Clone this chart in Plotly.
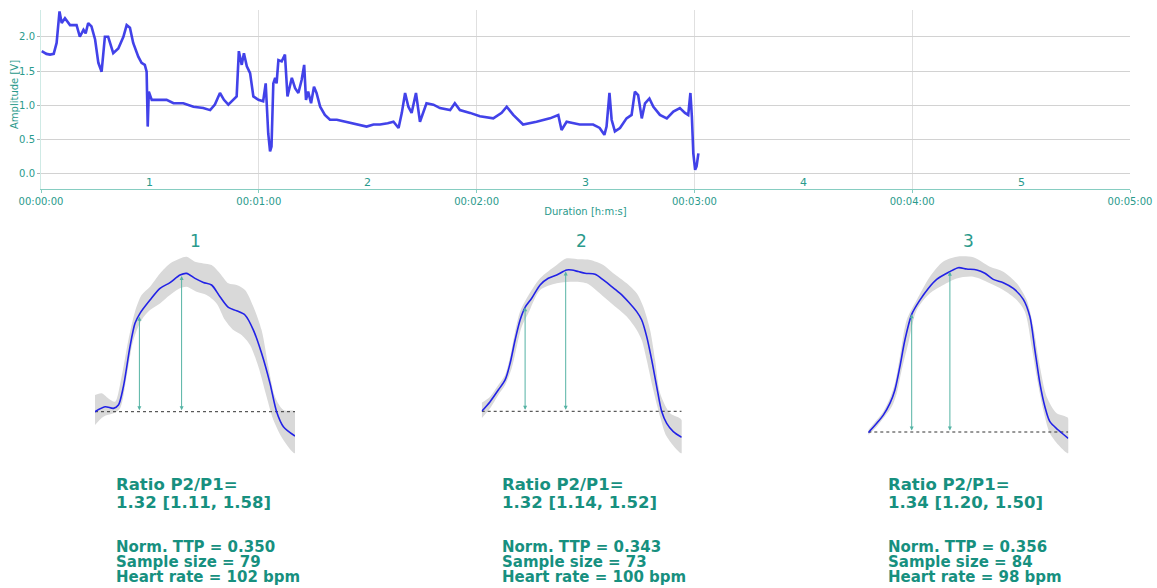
import plotly.graph_objects as go

# ---------------- data: top recording ----------------
t_sec = [0.2, 1.5, 2.5, 3.5, 4.3, 5.1, 5.7, 6.6, 8.0, 9.8, 10.7, 11.7, 12.3, 13.0, 13.9, 14.9, 15.8, 16.7, 17.6, 18.5,
         19.9, 21.3, 22.7, 23.6, 24.5, 25.4, 26.8, 27.7, 28.6, 29.1, 29.4, 29.7, 30.5, 32.8, 34.6, 36.5, 39.2, 42.0, 44.7, 46.6,
         47.9, 49.3, 50.4, 51.6, 52.9, 53.9, 54.5, 55.3, 55.9, 56.7, 57.6, 58.5, 59.9, 61.2, 61.9, 62.2, 62.6, 63.1, 63.5, 64.0,
         64.5, 64.9, 65.4, 66.3, 67.2, 67.9, 69.1, 70.0, 70.9, 71.8, 72.5, 73.0, 73.6, 74.4, 75.2, 75.9, 76.9, 78.2, 79.6, 81.5,
         84.2, 87.0, 89.7, 91.6, 93.4, 95.5, 97.1, 98.5, 99.4, 100.3, 101.2, 102.1, 103.3, 104.4, 106.2, 108.1, 109.9, 112.7, 114.0, 115.4,
         118.2, 120.9, 124.6, 126.9, 128.3, 130.1, 132.8, 136.5, 140.2, 142.5, 143.4, 144.8, 148.4, 152.1, 153.9, 155.2, 155.8, 156.6, 157.2, 158.1,
         159.5, 161.3, 162.7, 163.6, 164.5, 165.5, 166.4, 167.6, 168.7, 170.5, 172.4, 174.2, 176.0, 177.4, 178.3, 178.9, 179.3, 179.7, 180.2, 180.6,
         181.1]
amp_v = [1.79, 1.75, 1.74, 1.75, 1.91, 2.37, 2.20, 2.27, 2.17, 2.17, 2.00, 2.10, 2.05, 2.20, 2.15, 1.96, 1.62, 1.49, 2.00, 2.00,
         1.76, 1.83, 2.00, 2.17, 2.13, 1.91, 1.71, 1.62, 1.59, 1.49, 0.69, 1.20, 1.08, 1.08, 1.08, 1.03, 1.03, 0.98, 0.96, 0.93,
         1.01, 1.18, 1.08, 1.01, 1.08, 1.13, 1.79, 1.59, 1.76, 1.57, 1.47, 1.13, 1.08, 1.06, 1.32, 0.89, 0.59, 0.33, 0.40, 1.32,
         1.40, 1.32, 1.66, 1.64, 1.74, 1.13, 1.40, 1.25, 1.18, 1.37, 1.59, 1.08, 1.20, 1.03, 1.27, 1.18, 0.98, 0.86, 0.79, 0.79,
         0.76, 0.72, 0.69, 0.72, 0.72, 0.74, 0.76, 0.67, 0.89, 1.18, 0.98, 0.89, 1.18, 0.76, 1.03, 1.01, 0.96, 0.93, 1.03, 0.93,
         0.89, 0.84, 0.81, 0.89, 0.98, 0.86, 0.72, 0.76, 0.81, 0.86, 0.64, 0.76, 0.72, 0.72, 0.67, 0.57, 0.69, 1.18, 0.79, 0.62,
         0.67, 0.81, 0.86, 1.20, 1.15, 0.81, 1.03, 1.10, 0.98, 0.86, 0.81, 0.91, 0.96, 0.89, 0.86, 1.18, 0.84, 0.30, 0.06, 0.11,
         0.30]

segment_labels = ["1", "2", "3", "4", "5"]
segment_centers = [30, 90, 150, 210, 270]
x_tick_vals = [0, 60, 120, 180, 240, 300]
x_tick_text = ["00:00:00", "00:01:00", "00:02:00", "00:03:00", "00:04:00", "00:05:00"]
y_tick_vals = [0.0, 0.5, 1.0, 1.5, 2.0]

# ---------------- data: averaged pulses ----------------
p1_mean_x = [0, 0.05, 0.092, 0.117, 0.142, 0.175, 0.2, 0.225, 0.275, 0.325, 0.375, 0.425, 0.458, 0.5, 0.542, 0.583, 0.625, 0.667, 0.708, 0.75, 0.792, 0.833, 0.875, 0.908, 0.942, 1.0]
p1_mean_y = [0, 0.036, 0.024, 0.048, 0.181, 0.47, 0.639, 0.711, 0.807, 0.892, 0.933, 0.988, 1.0, 0.964, 0.935, 0.916, 0.831, 0.754, 0.73, 0.699, 0.59, 0.422, 0.205, 0.0, -0.108, -0.176]
p1_up_x = [0, 0.033, 0.067, 0.1, 0.133, 0.167, 0.2, 0.233, 0.275, 0.325, 0.375, 0.425, 0.458, 0.5, 0.542, 0.583, 0.625, 0.667, 0.708, 0.75, 0.792, 0.833, 0.867, 0.9, 0.942, 1.0]
p1_up_y = [0.12, 0.133, 0.096, 0.072, 0.253, 0.518, 0.723, 0.843, 0.904, 1.0, 1.072, 1.108, 1.12, 1.084, 1.072, 1.06, 1.0, 0.928, 0.916, 0.88, 0.759, 0.59, 0.325, 0.108, 0.012, 0.0]
p1_lo_x = [0, 0.042, 0.092, 0.125, 0.158, 0.192, 0.233, 0.275, 0.325, 0.375, 0.425, 0.458, 0.508, 0.558, 0.608, 0.65, 0.692, 0.733, 0.775, 0.817, 0.858, 0.892, 0.942, 1.0]
p1_lo_y = [-0.096, -0.036, -0.012, 0.024, 0.253, 0.518, 0.663, 0.735, 0.783, 0.843, 0.892, 0.904, 0.867, 0.843, 0.783, 0.663, 0.59, 0.554, 0.482, 0.325, 0.108, -0.06, -0.205, -0.301]

p2_mean_x = [0, 0.042, 0.083, 0.117, 0.142, 0.167, 0.192, 0.217, 0.25, 0.292, 0.333, 0.375, 0.425, 0.45, 0.483, 0.517, 0.567, 0.608, 0.65, 0.692, 0.733, 0.775, 0.8, 0.825, 0.85, 0.875, 0.9, 0.925, 0.958, 1.0]
p2_mean_y = [0, 0.068, 0.15, 0.221, 0.338, 0.502, 0.643, 0.732, 0.796, 0.89, 0.937, 0.96, 0.995, 0.995, 0.984, 0.972, 0.965, 0.925, 0.878, 0.831, 0.772, 0.702, 0.643, 0.526, 0.362, 0.174, -0.002, -0.085, -0.143, -0.183]
p2_up_x = [0, 0.042, 0.083, 0.117, 0.142, 0.167, 0.192, 0.225, 0.292, 0.375, 0.425, 0.492, 0.542, 0.608, 0.658, 0.725, 0.775, 0.808, 0.842, 0.867, 0.892, 0.942, 1.0]
p2_up_y = [0.061, 0.103, 0.185, 0.256, 0.385, 0.561, 0.702, 0.796, 0.937, 1.031, 1.077, 1.07, 1.066, 1.031, 0.972, 0.901, 0.831, 0.737, 0.573, 0.362, 0.127, -0.014, -0.061]
p2_lo_x = [0, 0.042, 0.083, 0.117, 0.15, 0.175, 0.2, 0.233, 0.292, 0.375, 0.442, 0.525, 0.608, 0.658, 0.725, 0.775, 0.8, 0.825, 0.858, 0.892, 0.925, 1.0]
p2_lo_y = [-0.049, 0.021, 0.115, 0.185, 0.303, 0.455, 0.596, 0.69, 0.854, 0.901, 0.913, 0.901, 0.808, 0.749, 0.667, 0.573, 0.502, 0.362, 0.15, -0.038, -0.178, -0.296]

p3_mean_x = [0, 0.042, 0.075, 0.108, 0.133, 0.158, 0.183, 0.217, 0.258, 0.3, 0.342, 0.408, 0.45, 0.492, 0.542, 0.583, 0.625, 0.675, 0.725, 0.775, 0.808, 0.833, 0.858, 0.883, 0.908, 0.95, 1.0]
p3_mean_y = [-0.004, 0.053, 0.103, 0.174, 0.256, 0.398, 0.56, 0.716, 0.803, 0.874, 0.929, 0.976, 1.0, 0.992, 0.986, 0.966, 0.929, 0.909, 0.874, 0.807, 0.702, 0.499, 0.296, 0.154, 0.063, 0.012, -0.039]
p3_up_x = [0, 0.042, 0.075, 0.108, 0.133, 0.158, 0.192, 0.242, 0.308, 0.375, 0.442, 0.525, 0.608, 0.675, 0.742, 0.792, 0.825, 0.858, 0.892, 0.942, 1.0]
p3_up_y = [0.012, 0.073, 0.124, 0.205, 0.296, 0.458, 0.682, 0.803, 0.945, 1.037, 1.067, 1.063, 1.006, 0.976, 0.905, 0.803, 0.641, 0.398, 0.215, 0.114, 0.083]
p3_lo_x = [0, 0.042, 0.075, 0.117, 0.142, 0.167, 0.2, 0.242, 0.308, 0.375, 0.442, 0.525, 0.608, 0.675, 0.742, 0.783, 0.817, 0.842, 0.875, 0.908, 0.958, 1.0]
p3_lo_y = [-0.018, 0.032, 0.083, 0.154, 0.235, 0.377, 0.54, 0.742, 0.844, 0.895, 0.935, 0.945, 0.905, 0.864, 0.803, 0.732, 0.519, 0.337, 0.134, -0.008, -0.089, -0.13]

marker_x = [0.222, 0.433, 0.217, 0.42, 0.217, 0.408]  # P1,P2 for pulse 1,2,3
marker_y = [0.687, 0.981, 0.732, 0.984, 0.716, 0.976]

pulse_names = ["1", "2", "3"]
ratio = ["1.32", "1.32", "1.34"]
ratio_ci = ["[1.11, 1.58]", "[1.14, 1.52]", "[1.20, 1.50]"]
norm_ttp = ["0.350", "0.343", "0.356"]
sample_size = [79, 73, 84]
heart_rate = [102, 100, 98]

# ---------------- styling ----------------
W, H = 1157, 588
TEAL = "#2a9a8c"
TEAL_DARK = "#17907f"
BLUE = "#2222e6"
GRID = "#d2d2d2"
FONT = "DejaVu Sans"


def px_x(p):
    return p / W


def px_y(p):
    return 1 - p / H


fig = go.Figure()

# top recording
fig.add_trace(go.Scatter(x=t_sec, y=amp_v, mode="lines", opacity=0.85,
                         line=dict(color=BLUE, width=2.6), xaxis="x", yaxis="y",
                         showlegend=False, hoverinfo="skip"))

annotations = []
for lab, c in zip(segment_labels, segment_centers):
    annotations.append(dict(x=c, y=px_y(182), xref="x", yref="paper", text=lab,
                            showarrow=False, font=dict(family=FONT, size=11, color=TEAL),
                            xanchor="center", yanchor="middle"))
annotations.append(dict(x=px_x(14), y=px_y(95), xref="paper", yref="paper", text="Amplitude [V]",
                        textangle=-90, showarrow=False, font=dict(family=FONT, size=10, color=TEAL),
                        xanchor="center", yanchor="middle"))

# pulse panels
panels = [
    (p1_mean_x, p1_mean_y, p1_up_x, p1_up_y, p1_lo_x, p1_lo_y),
    (p2_mean_x, p2_mean_y, p2_up_x, p2_up_y, p2_lo_x, p2_lo_y),
    (p3_mean_x, p3_mean_y, p3_up_x, p3_up_y, p3_lo_x, p3_lo_y),
]
panel_left_px = [95, 481.7, 868.3]
panel_w_px = 200
panel_top_px, panel_bot_px = 250, 460
baseline_px = [411.7, 411.3, 432.0]
unit_px = [138.3, 142.0, 164.3]
text_left_px = [113.5, 499.5, 886.5]


def tight_lines(lines, glyph_px, spacing_px):
    # one annotation per block; base font sets line spacing (1.3em), span sets glyph size
    return "<br>".join(f"<span style='font-size:{glyph_px}px'><b>{ln}</b></span>" for ln in lines), spacing_px / 1.3


layout_axes = {}
for i, (mx, my, ux, uy, lx, ly) in enumerate(panels):
    k = i + 2
    xa, ya = f"x{k}", f"y{k}"
    poly_x = ux + lx[::-1]
    poly_y = uy + ly[::-1]
    fig.add_trace(go.Scatter(x=poly_x, y=poly_y, mode="lines", fill="toself",
                             fillcolor="#d9d9d9", line=dict(width=0, color="#d9d9d9", shape="spline", smoothing=0.8),
                             xaxis=xa, yaxis=ya, showlegend=False, hoverinfo="skip"))
    fig.add_trace(go.Scatter(x=[mx[0], mx[-1]], y=[0, 0], mode="lines",
                             line=dict(color="#333333", width=1, dash="dot"),
                             xaxis=xa, yaxis=ya, showlegend=False, hoverinfo="skip"))
    fig.add_trace(go.Scatter(x=mx, y=my, mode="lines",
                             line=dict(color=BLUE, width=1.6, shape="spline", smoothing=0.8),
                             xaxis=xa, yaxis=ya, showlegend=False, hoverinfo="skip"))
    for j in range(2):
        px_ = marker_x[2 * i + j]
        py_ = marker_y[2 * i + j]
        annotations.append(dict(x=px_, y=py_, ax=px_, ay=0, xref=xa, yref=ya, axref=xa, ayref=ya,
                                text="", showarrow=True, arrowhead=2, startarrowhead=2, arrowside="end+start",
                                arrowsize=0.8, startarrowsize=0.8, arrowwidth=1, arrowcolor="#55b3a4"))
    x0 = px_x(panel_left_px[i])
    x1 = px_x(panel_left_px[i] + panel_w_px)
    B, U = baseline_px[i], unit_px[i]
    layout_axes[f"xaxis{k}"] = dict(domain=[x0, x1], range=[0, 1], visible=False, anchor=ya, automargin=False)
    layout_axes[f"yaxis{k}"] = dict(domain=[px_y(panel_bot_px), px_y(panel_top_px)],
                                    range=[-(panel_bot_px - B) / U, (B - panel_top_px) / U],
                                    visible=False, anchor=xa, automargin=False)
    cx = px_x(panel_left_px[i] + panel_w_px / 2)
    annotations.append(dict(x=cx, y=px_y(241), xref="paper", yref="paper", text=pulse_names[i],
                            showarrow=False, font=dict(family=FONT, size=17, color=TEAL),
                            xanchor="center", yanchor="middle"))
    blk1, fs1 = tight_lines(["Ratio P2/P1=", f"{ratio[i]} {ratio_ci[i]}"], 16.5, 18)
    blk2, fs2 = tight_lines([f"Norm. TTP = {norm_ttp[i]}", f"Sample size = {sample_size[i]}",
                             f"Heart rate = {heart_rate[i]} bpm"], 15, 15)
    for blk, fs, yc in [(blk1, fs1, 493), (blk2, fs2, 562)]:
        annotations.append(dict(x=px_x(text_left_px[i]), y=px_y(yc), xref="paper", yref="paper",
                                text=blk, showarrow=False, align="left",
                                font=dict(family=FONT, size=fs, color=TEAL_DARK),
                                xanchor="left", yanchor="middle"))

fig.update_layout(
    width=W, height=H,
    margin=dict(l=0, r=0, t=0, b=0, autoexpand=False),
    paper_bgcolor="white", plot_bgcolor="white",
    font=dict(family=FONT, color=TEAL),
    xaxis=dict(domain=[px_x(41), px_x(1130)], range=[0, 300], tickvals=x_tick_vals, ticktext=x_tick_text,
               showgrid=True, gridcolor="#e0e0e0", gridwidth=1, zeroline=False,
               showline=True, linecolor="#86cdc1", linewidth=1,
               ticks="outside", ticklen=3, tickcolor="#86cdc1",
               tickfont=dict(family=FONT, size=10, color=TEAL),
               title=dict(text="Duration [h:m:s]", font=dict(family=FONT, size=10, color=TEAL), standoff=1),
               anchor="y", automargin=False),
    yaxis=dict(domain=[px_y(189), px_y(10)], range=[-0.22, 2.39], tickvals=y_tick_vals,
               tickformat=".1f", showgrid=True, gridcolor=GRID, gridwidth=1, zeroline=False,
               showline=True, linecolor="#cfeae5", linewidth=1, ticks="outside", ticklen=3, tickcolor="#b0b0b0",
               tickfont=dict(family=FONT, size=10, color=TEAL),
               anchor="x", automargin=False),
    annotations=annotations,
    **layout_axes,
)

fig.write_html("out.html", config={"displayModeBar": False},
               post_script="document.body.style.margin='0';document.body.style.overflow='hidden';")
